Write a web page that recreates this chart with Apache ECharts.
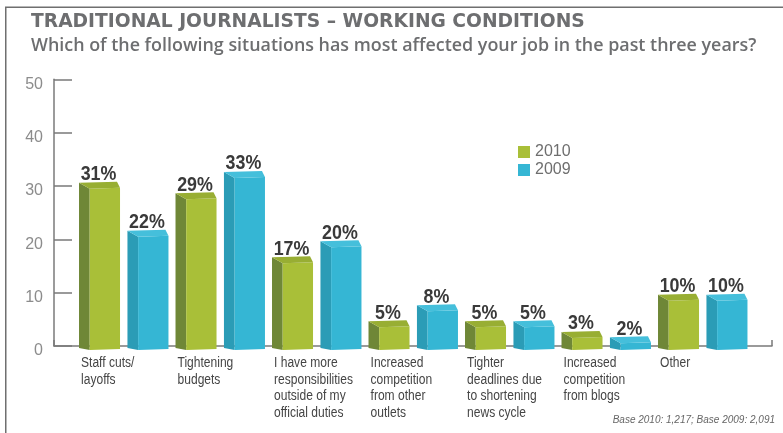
<!DOCTYPE html>
<html>
<head>
<meta charset="utf-8">
<script src="https://cdn.jsdelivr.net/npm/echarts@6/dist/echarts.min.js"></script>
<style>
  html, body { margin: 0; padding: 0; background: #fff; }
  #chart { width: 783px; height: 433px; }
</style>
</head>
<body>
<div id="chart"></div>
<script>
// Survey answers, percent of respondents
const categories = [
  'Staff cuts/\nlayoffs',
  'Tightening\nbudgets',
  'I have more\nresponsibilities\noutside of my\nofficial duties',
  'Increased\ncompetition\nfrom other\noutlets',
  'Tighter\ndeadlines due\nto shortening\nnews cycle',
  'Increased\ncompetition\nfrom blogs',
  'Other'
];
const values2010 = [31, 29, 17, 5, 5, 3, 10];
const values2009 = [22, 33, 20, 8, 5, 2, 10];
const yTicks = [0, 10, 20, 30, 40, 50];
const seriesNames = ['2010', '2009'];

const SANS = '"Liberation Sans", Arial, sans-serif';

const palette = {
  '2010': { front: '#a9bf38', side: '#6f8737', top: '#98ae33' },
  '2009': { front: '#35b6d4', side: '#2b9cb6', top: '#45bfdb' }
};

// A box-style bar: dark left side, front face and a thin top face,
// positioned inside the category band by offset (fraction of band width)
function boxBar(name, offset) {
  const c = palette[name];
  return function (params, api) {
    const idx = api.value(0);
    const v = api.value(1);
    const top = api.coord([idx, v]);
    const base = api.coord([idx, 0]);
    const band = api.size([1, 0])[0];
    const w = band * 0.425;
    const side = w * 0.26;
    const d = 6;
    const xL = top[0] + band * offset;
    const xF = xL + side;
    const xR = xL + w;
    const yT = top[1] + 2;
    const yB = base[1];
    return {
      type: 'group',
      children: [
        { type: 'polygon', shape: { points: [[xL, yT], [xF, yT + d], [xF, yB + 4], [xL, yB + 2]] },
          style: { fill: c.side } },
        { type: 'polygon', shape: { points: [[xF, yT + d], [xR, yT + d - 1], [xR, yB + 3], [xF, yB + 4]] },
          style: { fill: c.front } },
        { type: 'polygon', shape: { points: [[xL, yT], [xF, yT + d], [xR, yT + d - 1], [xR - 3, yT - 1]] },
          style: { fill: c.top } },
        { type: 'text', x: xL + w / 2 - 1, y: yT + 2, scaleX: 0.85,
          style: { text: v + '%', align: 'center', verticalAlign: 'bottom',
                   font: 'bold 21px ' + SANS, fill: '#3a3a3a' } }
      ]
    };
  };
}

// Category names, left-aligned under the first bar of each pair, set a little condensed
function categoryLabel(params, api) {
  const idx = api.value(0);
  const base = api.coord([idx, 0]);
  const band = api.size([1, 0])[0];
  return {
    type: 'text', x: base[0] - band * 0.44, y: base[1] + 9, scaleX: 0.86,
    style: { text: categories[idx], align: 'left', verticalAlign: 'top',
             font: '14px ' + SANS, lineHeight: 16.6, fill: '#454545' }
  };
}

const chart = echarts.init(document.getElementById('chart'));

const plotTop = 79.3, plotBottom = 87;
const bandLeft = 75.25, bandWidth = 675.5;

chart.setOption({
  animation: false,
  backgroundColor: '#fff',
  title: {
    left: 26, top: 8,
    text: 'TRADITIONAL JOURNALISTS – WORKING CONDITIONS',
    subtext: 'Which of the following situations has most affected your job in the past three years?',
    itemGap: 5,
    textStyle: { fontFamily: '"DejaVu Sans", sans-serif', fontWeight: 'bold', fontSize: 18.7, color: '#6d6e70' },
    subtextStyle: { fontFamily: '"Open Sans", sans-serif', fontWeight: 600, fontSize: 17.9, color: '#6d6e70' }
  },
  legend: {
    orient: 'vertical', left: 513, top: 139,
    data: seriesNames,
    icon: 'rect', itemWidth: 12, itemHeight: 12, itemGap: 2,
    textStyle: { fontFamily: SANS, fontSize: 16, color: '#6e6e6e' }
  },
  grid: [
    { left: 54, right: 11, top: plotTop, bottom: plotBottom },
    { left: bandLeft, width: bandWidth, top: plotTop, bottom: plotBottom }
  ],
  xAxis: [
    { gridIndex: 0, type: 'value', min: 0, max: 1, interval: 1,
      axisLine: { show: true, lineStyle: { color: '#7a7a7a', width: 1.5 } },
      axisTick: { show: true, inside: true, length: 6, lineStyle: { color: '#7a7a7a', width: 1.5 } },
      axisLabel: { show: false }, splitLine: { show: false } },
    { gridIndex: 1, type: 'category', data: categories,
      axisLine: { show: false }, axisTick: { show: false }, axisLabel: { show: false } }
  ],
  yAxis: [
    { gridIndex: 0, type: 'value', min: yTicks[0], max: yTicks[yTicks.length - 1], interval: yTicks[1] - yTicks[0],
      axisLine: { show: true, lineStyle: { color: '#7a7a7a', width: 1.5 } },
      axisTick: { show: true, inside: true, length: 18, lineStyle: { color: '#7a7a7a', width: 1.5 } },
      axisLabel: { margin: 11, verticalAlign: 'top', lineHeight: 10, fontFamily: SANS, fontSize: 16, color: '#8c8c8c' },
      splitLine: { show: false } },
    { gridIndex: 1, type: 'value', min: 0, max: 50, show: false }
  ],
  series: [
    { name: seriesNames[0], type: 'custom', xAxisIndex: 1, yAxisIndex: 1,
      itemStyle: { color: palette['2010'].front },
      renderItem: boxBar('2010', -0.461),
      data: values2010.map((v, i) => [i, v]) },
    { name: seriesNames[1], type: 'custom', xAxisIndex: 1, yAxisIndex: 1,
      itemStyle: { color: palette['2009'].front },
      renderItem: boxBar('2009', 0.041),
      data: values2009.map((v, i) => [i, v]) },
    { name: 'categories', type: 'custom', xAxisIndex: 1, yAxisIndex: 1, silent: true,
      renderItem: categoryLabel,
      data: categories.map((c, i) => [i, 0]) }
  ],
  graphic: [
    { type: 'polyline', silent: true,
      shape: { points: [[5.75, 433], [5.75, 7.25], [783, 7.25]] },
      style: { stroke: '#6f6f6f', lineWidth: 1.5, fill: null } },
    { type: 'text', right: 8, top: 415,
      style: { text: 'Base 2010: 1,217; Base 2009: 2,091',
               font: 'italic 10px ' + SANS, fill: '#666' } }
  ]
});
</script>
</body>
</html>
